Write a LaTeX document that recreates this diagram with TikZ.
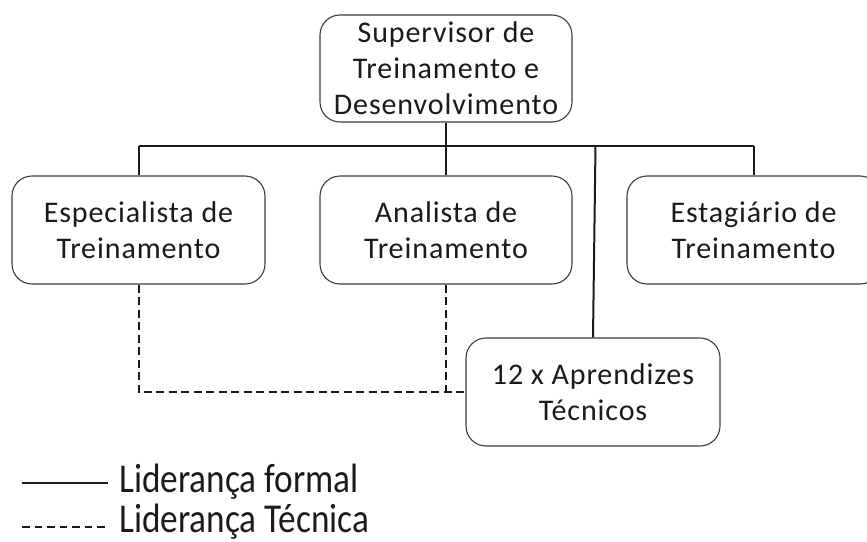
\documentclass[tikz,border=0pt]{standalone}
\usepackage{fontspec}
\setmainfont{Carlito}
\newfontfamily\boxfont{Carlito}[LetterSpace=3.0]
\newfontfamily\legfont{Carlito}[FakeStretch=0.86]
\definecolor{ink}{HTML}{1A1A1A}
\begin{document}
\begin{tikzpicture}[x=1pt,y=-1pt,
  box/.style={draw=ink!85, line width=1.1pt, rounded corners=20pt, align=center,
    inner sep=0pt, text=ink, font=\boxfont\fontsize{30}{36}\selectfont},
  conn/.style={draw=ink, line width=2pt},
  dconn/.style={draw=ink, line width=2pt, dash pattern=on 8pt off 4.5pt},
  legtext/.style={anchor=base west, inner sep=0pt, text=ink, font=\legfont\fontsize{41}{44}\selectfont}]
\useasboundingbox (0,0) rectangle (867,541);
\clip (0,0) rectangle (867,541);
\node[box, minimum width=252pt, minimum height=107pt] (sup) at (446,68.5) {Supervisor de\\Treinamento e\\Desenvolvimento};
\node[box, minimum width=253pt, minimum height=108pt] (esp) at (138.5,230) {Especialista de\\Treinamento};
\node[box, minimum width=252pt, minimum height=108pt] (ana) at (446,230) {Analista de\\Treinamento};
\node[box, minimum width=253pt, minimum height=108pt] (est) at (753.5,230) {Estagiário de\\Treinamento};
\node[box, minimum width=254pt, minimum height=108pt] (apr) at (593,392) {12 x Aprendizes\\Técnicos};
\coordinate (busL) at (138.5,146);
\coordinate (busR) at (753.5,146);
\coordinate (aprtop) at (595.5,146);
\draw[conn] (busL) -- (busR);
\draw[conn] (sup.south) -- (sup.south |- busL);
\draw[conn] (busL) -- (esp.north);
\draw[conn] (ana.north) -- (ana.north |- busL);
\draw[conn] (busR) -- (est.north);
\draw[conn] (aprtop) -- (apr.north);
\draw[dconn] (esp.south) |- (apr.west);
\draw[dconn] (ana.south) -- (ana.south |- apr.west);
% legend
\coordinate (l1a) at (22,483);
\coordinate (l1b) at (108,483);
\coordinate (l2a) at (22,527);
\coordinate (l2b) at (108,527);
\draw[conn] (l1a) -- (l1b);
\draw[draw=ink, line width=1.5pt, dash pattern=on 7.5pt off 5pt] (l2a) -- (l2b);
\node[legtext] (leg1) at (119,492) {Liderança formal};
\node[legtext] (leg2) at (119,532) {Liderança Técnica};
\end{tikzpicture}
\end{document}
